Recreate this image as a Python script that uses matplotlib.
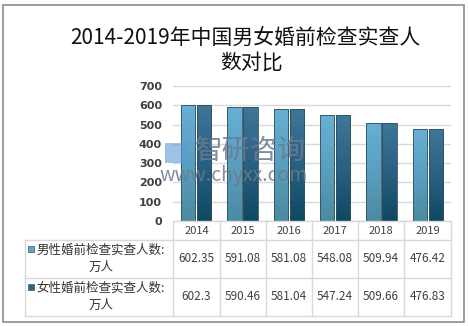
import matplotlib.pyplot as plt
import numpy as np
from matplotlib.colors import LinearSegmentedColormap
from matplotlib.patches import Rectangle

plt.rcParams['font.family'] = ['Noto Sans CJK SC', 'DejaVu Sans']

years = ['2014', '2015', '2016', '2017', '2018', '2019']
male = [602.35, 591.08, 581.08, 548.08, 509.94, 476.42]
female = [602.3, 590.46, 581.04, 547.24, 509.66, 476.83]
male_label = '男性婚前检查实查人数:\n万人'
female_label = '女性婚前检查实查人数:\n万人'
title_lines = ['2014-2019年中国男女婚前检查实查人', '数对比']

W, H = 468, 326
fig = plt.figure(figsize=(W / 100, H / 100), dpi=100)

def fx(px):
    return px / W

def fy(py):
    return 1 - py / H

# main bar axes
ax = fig.add_axes([fx(173), fy(221), fx(451) - fx(173), fy(86) - fy(221)])
ax.set_xlim(-0.5, 5.5)
ax.set_ylim(0, 700)
ax.set_yticks(range(0, 701, 100))
ax.set_xticks([])
for s in ax.spines.values():
    s.set_visible(False)
ax.grid(axis='y', color='#d9d9d9', linewidth=1)
ax.set_axisbelow(True)
ax.tick_params(axis='y', length=0, pad=8, labelsize=8, labelcolor='#404040')
for lab in ax.get_yticklabels():
    lab.set_fontweight('bold')
    lab.set_family('DejaVu Sans')

cm_male = LinearSegmentedColormap.from_list('m', ['#4b8aa2', '#5a9fc0', '#67b0d4'])
cm_female = LinearSegmentedColormap.from_list('f', ['#0e4862', '#2a6183', '#3f7799'])
grad = np.linspace(0, 1, 256).reshape(-1, 1)

bw = 0.31
off = 0.17
x = np.arange(len(years))
for xs, vals, cm in [(x - off, male, cm_male), (x + off, female, cm_female)]:
    for xi, v in zip(xs, vals):
        im = ax.imshow(grad, cmap=cm, origin='lower', aspect='auto',
                       extent=[xi - bw / 2, xi + bw / 2, 0, v], zorder=2)
        r = Rectangle((xi - bw / 2, 0), bw, v, fill=False,
                      edgecolor='#2f4f5f', linewidth=0.6, zorder=3)
        ax.add_patch(r)
        im.set_clip_path(r)
ax.set_xlim(-0.5, 5.5)
ax.set_ylim(0, 700)

# overlay for table, border, title
ov = fig.add_axes([0, 0, 1, 1])
ov.set_xlim(0, W)
ov.set_ylim(H, 0)
ov.axis('off')
ov.add_patch(Rectangle((3, 5), 461, 317, fill=False, edgecolor='#8c8c8c', linewidth=1.2))

ov.text(245, 38, title_lines[0], ha='center', va='center', fontsize=15, color='#111111')
ov.text(252, 63, title_lines[1], ha='center', va='center', fontsize=15, color='#111111')

cols = [173, 220, 266, 312, 358, 404, 451]
grid_c = '#d9d9d9'
for c in cols:
    ov.plot([c, c], [221, 316], color=grid_c, linewidth=1)
ov.plot([25, 25], [240, 316], color=grid_c, linewidth=1)
for yy in [240, 278, 316]:
    ov.plot([25, 451], [yy, yy], color=grid_c, linewidth=1)
ov.plot([173, 451], [221, 221], color=grid_c, linewidth=1)

for i, yr in enumerate(years):
    cx = (cols[i] + cols[i + 1]) / 2
    ov.text(cx, 231, yr, ha='center', va='center', fontsize=8, color='#404040')
    ov.text(cx, 259, f'{male[i]}', ha='center', va='center', fontsize=8.5, color='#404040')
    ov.text(cx, 297, f'{female[i]}', ha='center', va='center', fontsize=8.5, color='#404040')

for yc, lab, col in [(259, male_label, '#5ea6c8'), (297, female_label, '#2d6585')]:
    ov.text(101, yc, lab, ha='center', va='center', fontsize=9, color='#333333',
            linespacing=1.35, multialignment='center')
    ov.add_patch(Rectangle((28, yc - 13), 6, 6, facecolor=col, edgecolor='#3a5a6a', linewidth=0.5))

# watermark
ov.text(250, 151, '智研咨询', ha='center', va='center', fontsize=20,
        color='#6a7a8c', alpha=0.85)
ov.text(234, 176, 'www.chyxx.com', ha='center', va='center', fontsize=14,
        color='#6a7a8c', alpha=0.85)
ov.add_patch(Rectangle((165, 143), 22, 20, facecolor='#5b9bd5', alpha=0.6, edgecolor='none'))

fig.savefig('out.png', dpi=100)
